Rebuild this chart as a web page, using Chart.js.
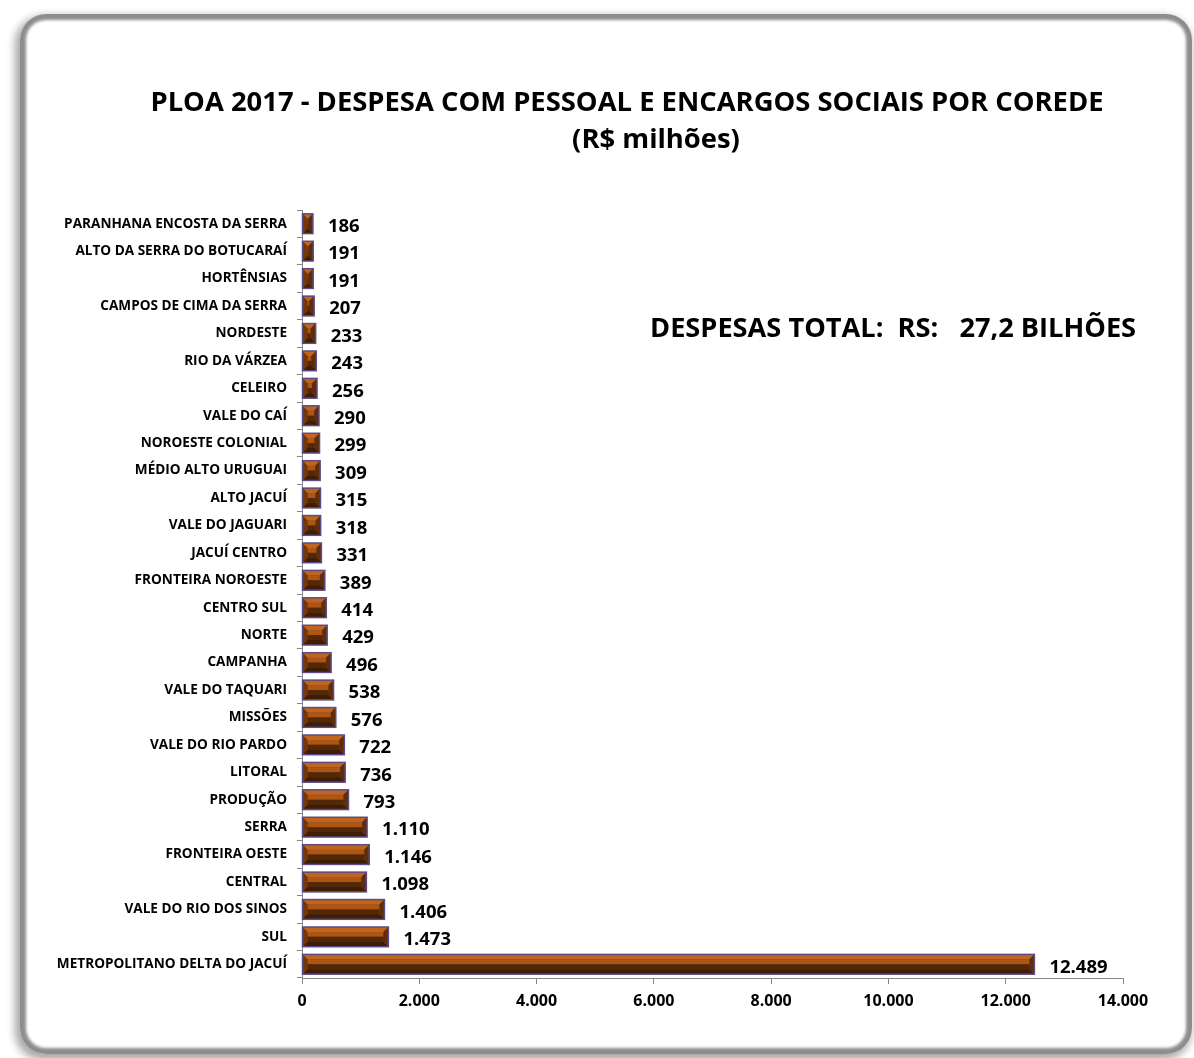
<!DOCTYPE html>
<html lang="pt-BR">
<head>
<meta charset="UTF-8">
<title>PLOA 2017 - Despesa com pessoal por COREDE</title>
<style>
  * { margin: 0; padding: 0; box-sizing: border-box; }
  body { width: 1194px; height: 1058px; background: #fff; position: relative; overflow: hidden; font-family: 'Open Sans', sans-serif; }
  .frame {
    position: absolute; left: 20px; top: 14px; width: 1172px; height: 1040px;
    border-radius: 26px; background: #fff;
    box-shadow: inset 0 0 3px 6px #8d8d8d, -3px 4px 8px 2px rgba(0,0,0,0.35);
  }
  #chart { position: absolute; left: 0; top: 0; }
</style>
</head>
<body>
<div class="frame"></div>
<canvas id="chart" width="1194" height="1058"></canvas>
<script src="https://cdn.jsdelivr.net/npm/chart.js@4.4.1/dist/chart.umd.min.js"></script>
<script>
// categories, top to bottom as in the picture
const coredes = [
  "PARANHANA ENCOSTA DA SERRA", "ALTO DA SERRA DO BOTUCARAÍ", "HORTÊNSIAS", "CAMPOS DE CIMA DA SERRA",
  "NORDESTE", "RIO DA VÁRZEA", "CELEIRO", "VALE DO CAÍ", "NOROESTE COLONIAL", "MÉDIO ALTO URUGUAI",
  "ALTO JACUÍ", "VALE DO JAGUARI", "JACUÍ CENTRO", "FRONTEIRA NOROESTE", "CENTRO SUL", "NORTE",
  "CAMPANHA", "VALE DO TAQUARI", "MISSÕES", "VALE DO RIO PARDO", "LITORAL", "PRODUÇÃO", "SERRA",
  "FRONTEIRA OESTE", "CENTRAL", "VALE DO RIO DOS SINOS", "SUL", "METROPOLITANO DELTA DO JACUÍ"
];
// R$ milhões
const despesas = [
  186, 191, 191, 207, 233, 243, 256, 290, 299, 309, 315, 318, 331, 389, 414, 429,
  496, 538, 576, 722, 736, 793, 1110, 1146, 1098, 1406, 1473, 12489
];
const titleLines = ["PLOA 2017 - DESPESA COM PESSOAL E ENCARGOS SOCIAIS POR COREDE", "(R$ milhões)"];
const totalText = "DESPESAS TOTAL:  RS:   27,2 BILHÕES";

const FONT = "'Open Sans', sans-serif";
const fmt = v => String(Math.round(v)).replace(/\B(?=(\d{3})+(?!\d))/g, ".");

// beveled bars + value labels + titles
const bevelPlugin = {
  id: "bevel",
  afterDatasetsDraw(chart) {
    const ctx = chart.ctx;
    const meta = chart.getDatasetMeta(0);
    ctx.save();
    meta.data.forEach((bar, i) => {
      const L = Math.min(bar.base, bar.x), R = Math.max(bar.base, bar.x);
      const T = bar.y - bar.height / 2, B = bar.y + bar.height / 2;
      const w = R - L, h = B - T, mid = (T + B) / 2;
      const b = Math.min(h * 0.25, w / 2);
      const poly = (pts, c) => {
        ctx.beginPath();
        ctx.moveTo(pts[0][0], pts[0][1]);
        for (let k = 1; k < pts.length; k++) ctx.lineTo(pts[k][0], pts[k][1]);
        ctx.closePath();
        ctx.fillStyle = c;
        ctx.fill();
      };
      // faces
      poly([[L + b, T + b], [R - b, T + b], [R - b, mid], [L + b, mid]], "#ad5512");
      poly([[L + b, mid], [R - b, mid], [R - b, B - b], [L + b, B - b]], "#532808");
      poly([[L, T], [R, T], [R - b, T + b], [L + b, T + b]], "#c06520");
      poly([[L, B], [R, B], [R - b, B - b], [L + b, B - b]], "#3e1d05");
      poly([[L, T], [L + b, T + b], [L + b, B - b], [L, B]], "#74370d");
      poly([[R, T], [R, B], [R - b, B - b], [R - b, T + b]], "#5e2d0b");
      ctx.strokeStyle = "#5f4b86";
      ctx.lineWidth = 1.5;
      ctx.strokeRect(L, T, w, h);
      // value label
      ctx.fillStyle = "#000";
      ctx.font = "bold 18.5px " + FONT;
      ctx.textAlign = "left";
      ctx.textBaseline = "middle";
      ctx.fillText(fmt(despesas[i]), R + 15, bar.y + 3);
    });
    // titles
    ctx.fillStyle = "#000";
    ctx.textAlign = "center";
    ctx.textBaseline = "middle";
    ctx.font = "bold 27.4px " + FONT;
    ctx.fillText(titleLines[0], 627, 103);
    ctx.fillText(titleLines[1], 656, 140);
    ctx.textAlign = "left";
    ctx.font = "bold 27.2px " + FONT;
    ctx.fillText(totalText, 650, 329);
    ctx.restore();
  }
};

new Chart(document.getElementById("chart"), {
  type: "bar",
  data: {
    labels: coredes,
    datasets: [{
      data: despesas,
      backgroundColor: "#7a3a0c",
      borderWidth: 0,
      barPercentage: 0.72,
      categoryPercentage: 1
    }]
  },
  plugins: [bevelPlugin],
  options: {
    indexAxis: "y",
    responsive: false,
    animation: false,
    layout: { padding: { left: 40, right: 71, top: 210, bottom: 0 } },
    plugins: {
      legend: { display: false },
      tooltip: { enabled: false },
      title: { display: false }
    },
    scales: {
      x: {
        min: 0,
        max: 14000,
        afterFit: s => { s.height = 80; },
        border: { color: "#868686", width: 1 },
        grid: { drawOnChartArea: false, tickLength: 6, color: "#868686" },
        ticks: {
          stepSize: 2000,
          padding: 8,
          color: "#000",
          font: { family: FONT, size: 16, weight: "bold" },
          callback: v => fmt(v)
        }
      },
      y: {
        afterFit: s => { s.width = 262; },
        border: { color: "#868686", width: 1 },
        grid: { drawOnChartArea: false, tickLength: 5, color: "#868686", offset: true },
        ticks: {
          padding: 10,
          color: "#000",
          autoSkip: false,
          font: { family: FONT, size: 13.6, weight: "bold" }
        }
      }
    }
  }
});
</script>
</body>
</html>
